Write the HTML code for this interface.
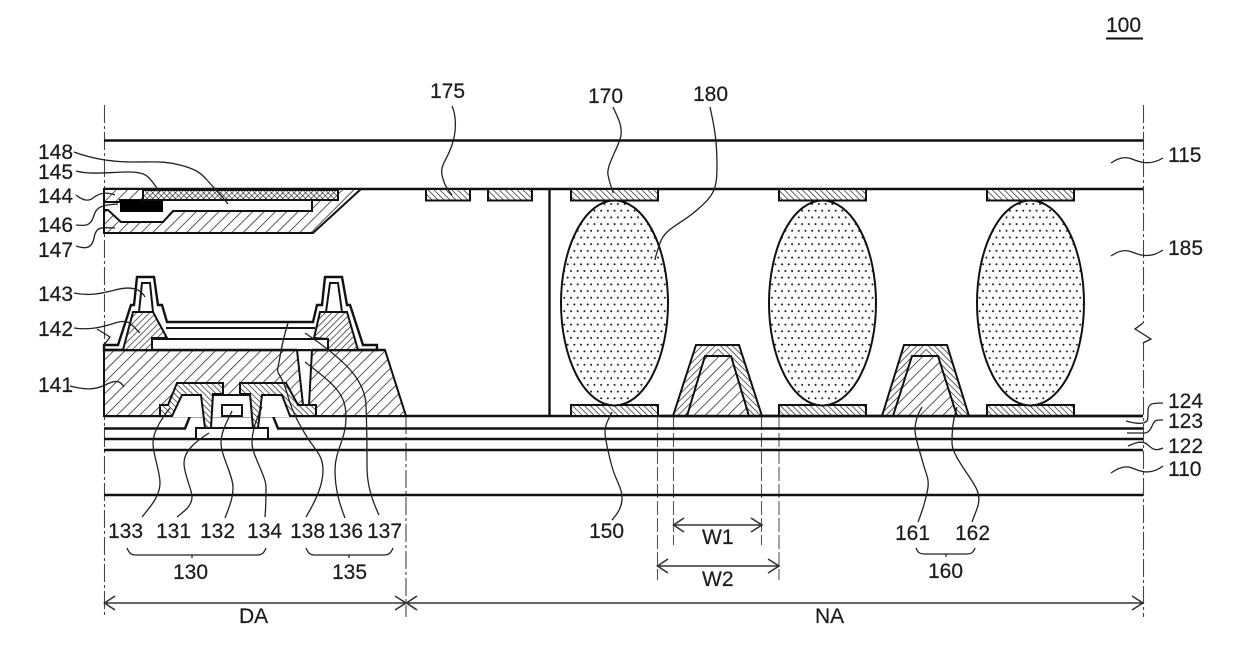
<!DOCTYPE html>
<html><head><meta charset="utf-8"><style>
html,body{margin:0;padding:0;background:#fff}
svg{display:block}
text{font-family:"Liberation Sans",sans-serif;font-size:21px;fill:#1c1c1c;stroke:#1c1c1c;stroke-width:.2}
.s{stroke:#111;stroke-width:2;fill:none}
.m{stroke:#111;stroke-width:2.4;fill:none}
.l{stroke:#222;stroke-width:1.3;fill:none}
.d{stroke:#444;stroke-width:1.1;fill:none;stroke-dasharray:18 3 3 3}
.e{stroke:#555;stroke-width:1.1;fill:none;stroke-dasharray:14 3}
</style></head><body>
<svg width="1240" height="659" viewBox="0 0 1240 659" xmlns="http://www.w3.org/2000/svg">
<defs>
<pattern id="f" width="8" height="8" patternUnits="userSpaceOnUse" patternTransform="rotate(45)"><rect width="8" height="8" fill="#fff"/><line x1="0" y1="0" x2="0" y2="8" stroke="#222" stroke-width="1.5"/></pattern>
<pattern id="g" width="4.6" height="4.6" patternUnits="userSpaceOnUse" patternTransform="rotate(45)"><rect width="4.6" height="4.6" fill="#fff"/><line x1="0" y1="0" x2="0" y2="4.6" stroke="#222" stroke-width="1.4"/></pattern>
<pattern id="b" width="4.2" height="4.2" patternUnits="userSpaceOnUse" patternTransform="rotate(-45)"><rect width="4.2" height="4.2" fill="#fff"/><line x1="0" y1="0" x2="0" y2="4.2" stroke="#222" stroke-width="1.4"/></pattern>
<pattern id="x" width="4" height="4" patternUnits="userSpaceOnUse" patternTransform="rotate(45)"><rect width="4" height="4" fill="#fff"/><path d="M0 0V4M0 0H4" stroke="#222" stroke-width="1.3"/></pattern>
<pattern id="p" width="6.7" height="13.4" patternUnits="userSpaceOnUse"><rect width="6.7" height="13.4" fill="#fff"/><circle cx="1.5" cy="3" r="1" fill="#111"/><circle cx="4.85" cy="9.7" r="1" fill="#111"/></pattern>
</defs>
<rect width="1240" height="659" fill="#fff"/>

<!-- boundaries -->
<path class="d" d="M104.5 105V617"/>
<path class="d" d="M1143.5 105V323M1143.5 343V617"/>
<path class="d" d="M406 416V617"/>
<path class="e" d="M657.5 416V580M673.5 416V545M761.5 416V545M779 416V580"/>
<path class="l" d="M1143 323L1135 329L1151 339L1143 343"/>

<!-- main layer lines -->
<path class="m" d="M104 140.5H1143M104 189H1143M104 416H1143M104 439H1143M104 450H1143M104 495H1143"/>
<path class="m" d="M104 428.5H185L190 416H273L278 428.5H1143"/>
<path class="m" d="M549.5 189V416"/>

<!-- black matrix area -->
<polygon class="s" style="fill:url(#f)" points="104,189 361,189 313,233 104,233"/>
<polygon class="s" style="fill:#fff" points="104,202 120,202 120,200 312,200 312,211 173,211 163,222 121,222 108,210 104,210"/>
<rect x="120" y="200" width="43" height="12" fill="#000"/>
<rect x="143" y="190" width="195" height="10" style="fill:url(#x)" stroke="#111" stroke-width="2"/>

<!-- 141 -->
<polygon class="s" style="fill:url(#f)" points="104,350 385,350 406,416 104,416"/>
<rect x="152" y="339" width="176" height="11" fill="#fff" stroke="#111" stroke-width="2"/>
<polygon fill="#fff" points="297,349 312,349 309,405 303,405"/>
<path class="s" d="M297 350L303 405M312 350L309 405"/>

<!-- 143 outer -->
<path class="m" style="fill:#fff" d="M104 345H118L131 305H134L137 277H154L158 305H162L167 322H313L317 305H322L325 277H342L347 305H350L363 345H377V350H104Z"/>
<path class="s" d="M166 328H315"/>
<rect x="152" y="339" width="176" height="11" fill="#fff" stroke="#111" stroke-width="2"/>
<path class="m" d="M104 350H297M312 350H385"/>
<polygon class="s" style="fill:url(#g)" points="123,350 133,312 153,312 167,338 152,338 152,350"/>
<polygon class="s" style="fill:url(#g)" points="314,338 320,312 347,312 358,350 328,350 328,339"/>
<path class="s" d="M133 312H139L142 283H150L153 312M320 312H326L330 283H338L342 312H347"/>

<!-- TFT -->
<polygon fill="#fff" points="172,417 182,395 282,395 290,417"/>
<rect x="196" y="428" width="72" height="11" fill="#fff" stroke="#111" stroke-width="2"/>
<rect x="222" y="405" width="20" height="11" fill="#fff" stroke="#111" stroke-width="2"/>
<path class="s" d="M213 395H250"/>
<polygon class="s" style="fill:url(#b)" points="160,405 168,405 177,383 223,383 223,394 213,394 211,428 205,428 201,395 182,395 172,416 160,416"/>
<polygon class="s" style="fill:url(#b)" points="240,383 286,383 298,405 316,405 316,416 290,416 282,395 262,395 258,428 253,428 250,394 240,394"/>

<!-- pads -->
<g class="s" style="fill:url(#b)">
<rect x="426" y="189" width="44" height="11.5"/>
<rect x="488" y="189" width="44" height="11.5"/>
<rect x="571" y="189" width="87" height="11.5"/>
<rect x="779" y="189" width="87" height="11.5"/>
<rect x="987" y="189" width="87" height="11.5"/>
<rect x="571" y="405" width="87" height="11"/>
<rect x="779" y="405" width="87" height="11"/>
<rect x="987" y="405" width="87" height="11"/>
</g>

<!-- spacers -->
<g class="s" style="fill:url(#p)">
<ellipse cx="614.5" cy="303" rx="53.5" ry="102.5"/>
<ellipse cx="822.5" cy="303" rx="53.5" ry="102.5"/>
<ellipse cx="1030.5" cy="303" rx="53.5" ry="102.5"/>
</g>

<!-- banks -->
<polygon style="fill:url(#g)" points="673,416 696,345 718,345 718,416"/>
<polygon style="fill:url(#b)" points="718,345 739,345 762,416 718,416"/>
<path class="s" d="M673 416L696 345H739L762 416"/>
<polygon class="s" style="fill:url(#f)" points="687,416 705,356 731,356 749,416"/>
<polygon style="fill:url(#g)" points="882,416 904,345 926,345 926,416"/>
<polygon style="fill:url(#b)" points="926,345 947,345 969,416 926,416"/>
<path class="s" d="M882 416L904 345H947L969 416"/>
<polygon class="s" style="fill:url(#f)" points="893,416 912,356 938,356 957,416"/>
<path class="m" d="M660 416H1143"/>

<!-- leaders -->
<g class="l">
<path d="M74 152C90 158 110 162 133 162S165 161 180 165S200 172 207 180S222 196 228 204"/>
<path d="M76 171C90 175 110 172 130 172S150 180 160 192"/>
<path d="M76 195C82 200 88 202 93 198S105 191 115 195"/>
<path d="M76 225C85 226 90 226 93 218S96 205 118 204"/>
<path d="M76 246C85 249 92 249 94 238S100 227 115 228"/>
<path d="M74 293C88 296 100 294 115 290S140 288 145 297"/>
<path d="M74 328C88 330 100 328 115 323S132 326 140 333"/>
<path d="M97 329L110 337L104 345"/>
<path d="M70 386C85 390 95 390 105 385S120 380 124 387"/>
<path d="M142 517C152 505 160 495 160 483S153 455 153 443S162 418 170 408"/>
<path d="M177 517C186 510 192 505 192 497S184 475 184 463S195 442 209 433"/>
<path d="M225 518C230 505 233 498 233 487S221 455 221 443S228 420 232 411"/>
<path d="M265 517C266 505 266 498 266 487S252 455 252 443S256 420 262 407"/>
<path d="M306 517C316 500 323 485 323 470S315 450 307 437S292 412 287 393S276 375 278 367S281 345 288 323"/>
<path d="M345 518C340 505 335 490 335 470S346 440 346 417S335 385 305 362"/>
<path d="M379 515C372 500 367 485 367 467S367 430 366 405S345 360 305 333"/>
<path d="M452 106C456 115 457 130 452 145S440 165 442 175S448 190 452 195"/>
<path d="M613 107C618 118 622 125 621 135S606 165 608 175S612 188 613 193"/>
<path d="M710 107C714 125 717 140 717 165S714 195 697 210S665 228 660 243S656 255 655 260"/>
<path d="M612 412C608 420 605 425 605 432S610 460 613 470S623 490 622 500S616 515 612 520"/>
<path d="M922 407C917 415 915 422 915 430S920 452 923 463S929 478 928 487S922 512 918 522"/>
<path d="M957 407C953 420 952 430 952 443S972 478 977 490S976 510 972 522"/>
<path d="M1111 163C1118 158 1125 156 1132 159S1150 166 1163 158"/>
<path d="M1111 256C1118 251 1125 249 1132 252S1150 259 1163 250"/>
<path d="M1126 421C1133 423 1138 424 1143 423S1148 420 1148 412S1150 403 1163 403"/>
<path d="M1127 433H1145C1150 432 1151 428 1153 424S1156 420 1163 420"/>
<path d="M1128 446C1135 443 1140 441 1145 443S1152 453 1163 448"/>
<path d="M1111 473C1118 468 1125 465 1132 468S1150 476 1163 466"/>
<!-- braces -->
<path d="M127 548C129 553 131 555 136 555H257C262 555 264 553 266 548M192 555V558"/>
<path d="M306 548C308 553 310 555 315 555H384C389 555 391 553 393 548M349 555V558"/>
<path d="M916 548C918 553 920 554 925 554H966C971 554 973 553 975 548M946 554V557"/>
</g>

<!-- dimension arrows -->
<g stroke="#333" stroke-width="1.6" fill="none">
<path d="M104 603H406M115 596L104.500 603L115 610M395 596L406 603L395 610"/>
<path d="M406 603H1143M417 596L406.500 603L417 610M1132 596L1143 603L1132 610"/>
<path d="M673 525H762M684 518L673.500 525L684 532M751 518L762 525L751 532"/>
<path d="M657 566H779M668 559L657.500 566L668 573M768 559L779 566L768 573"/>
</g>

<!-- labels -->
<text x="1106" y="32">100</text>
<path d="M1106 38.500H1143" stroke="#111" stroke-width="2"/>
<text x="38" y="159">148</text>
<text x="38" y="179">145</text>
<text x="38" y="203">144</text>
<text x="38" y="232">146</text>
<text x="38" y="257">147</text>
<text x="38" y="301">143</text>
<text x="38" y="336">142</text>
<text x="38" y="392">141</text>
<text x="430" y="98">175</text>
<text x="588" y="103">170</text>
<text x="693" y="101">180</text>
<text x="1168" y="162">115</text>
<text x="1168" y="255">185</text>
<text x="1168" y="408">124</text>
<text x="1168" y="428">123</text>
<text x="1168" y="453">122</text>
<text x="1168" y="476">110</text>
<text x="108" y="538">133</text>
<text x="156" y="538">131</text>
<text x="200" y="538">132</text>
<text x="247" y="538">134</text>
<text x="290" y="538">138</text>
<text x="328" y="538">136</text>
<text x="367" y="538">137</text>
<text x="173" y="579">130</text>
<text x="332" y="579">135</text>
<text x="239" y="623">DA</text>
<text x="589" y="538">150</text>
<text x="702" y="544">W1</text>
<text x="702" y="586">W2</text>
<text x="895" y="540">161</text>
<text x="955" y="540">162</text>
<text x="928" y="578">160</text>
<text x="815" y="623">NA</text>
</svg>
</body></html>
